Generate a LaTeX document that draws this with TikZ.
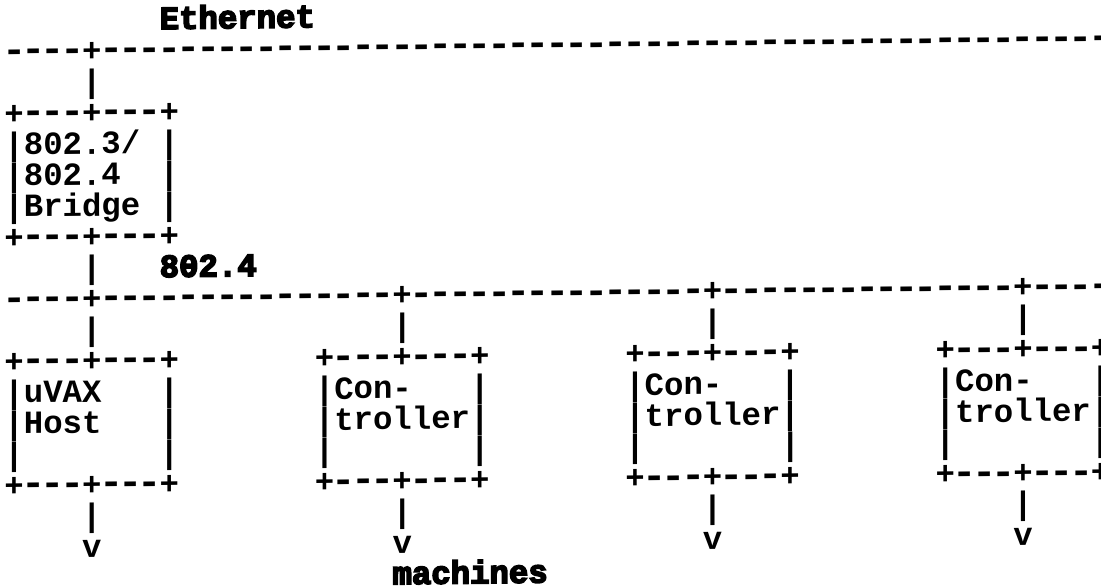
\documentclass[tikz,border=0pt]{standalone}
\usepackage{fontspec}
\usepackage{graphicx}
\setmonofont{Liberation Mono}
\newfontfamily\heavyfont{Liberation Mono Bold}[FakeBold=5]
\newcommand\hy{\makebox[0.6em]{\scalebox{1.25}[1.2]{-}}}
\newcommand\dashrun[1]{\foreach \k in {1,...,#1}{\hy}}
\newcommand\edge{+\hy\hy\hy+\hy\hy\hy+}
\tikzstyle{ascii}=[inner sep=0pt, outer sep=0pt, anchor=base west, align=left,
  font=\ttfamily\bfseries\fontsize{32.33}{31}\selectfont]
\tikzstyle{heading}=[ascii, font=\heavyfont\fontsize{32.33}{31}\selectfont]

\begin{document}
\begin{tikzpicture}[x=19.4pt,y=-31pt]
	\useasboundingbox (0pt,0pt) rectangle (1101pt,-586pt);
	% multi-line nodes sit on the baseline of their last line
	\begin{scope}[shift={(4.5pt,-31pt)}, yslant=0.012, transform shape]
		% Ethernet side
		\node[heading] (ethlabel) at (8,0) {Ethernet};
		\node[ascii] (ethbus) at (0,1) {\dashrun{4}+\dashrun{52}};
		\node[ascii] (ethdrop) at (4,2) {|};
		\node[ascii] (bridge) at (0,7) {\edge\\|802.3/~|\\|802.4~~|\\|Bridge~|\\\edge};
		\node[ascii] (bridgedrop) at (4,8) {|};
		% 802.4 side
		\node[heading] (tokenlabel) at (8,8) {802.4};
		\node[ascii] (tokenbus) at (0,9) {\dashrun{4}+\dashrun{15}+\dashrun{15}+\dashrun{15}+\dashrun{4}};
		\node[ascii] (hostdrop) at (4,10) {|};
		\node[ascii] (ctrladrop) at (20,10) {|};
		\node[ascii] (ctrlbdrop) at (36,10) {|};
		\node[ascii] (ctrlcdrop) at (52,10) {|};
		\node[ascii] (host) at (0,15) {\edge\\|uVAX~~~|\\|Host~~~|\\|~~~~~~~|\\\edge};
		\node[ascii] (ctrla) at (16,15) {\edge\\|Con-~~~|\\|troller|\\|~~~~~~~|\\\edge};
		\node[ascii] (ctrlb) at (32,15) {\edge\\|Con-~~~|\\|troller|\\|~~~~~~~|\\\edge};
		\node[ascii] (ctrlc) at (48,15) {\edge\\|Con-~~~|\\|troller|\\|~~~~~~~|\\\edge};
		% outputs to the machines
		\node[ascii] (hostout) at (4,17) {|\\v};
		\node[ascii] (ctrlaout) at (20,17) {|\\v};
		\node[ascii] (ctrlbout) at (36,17) {|\\v};
		\node[ascii] (ctrlcout) at (52,17) {|\\v};
		\node[heading] (machines) at (20,18) {machines};
	\end{scope}
\end{tikzpicture}
\end{document}
